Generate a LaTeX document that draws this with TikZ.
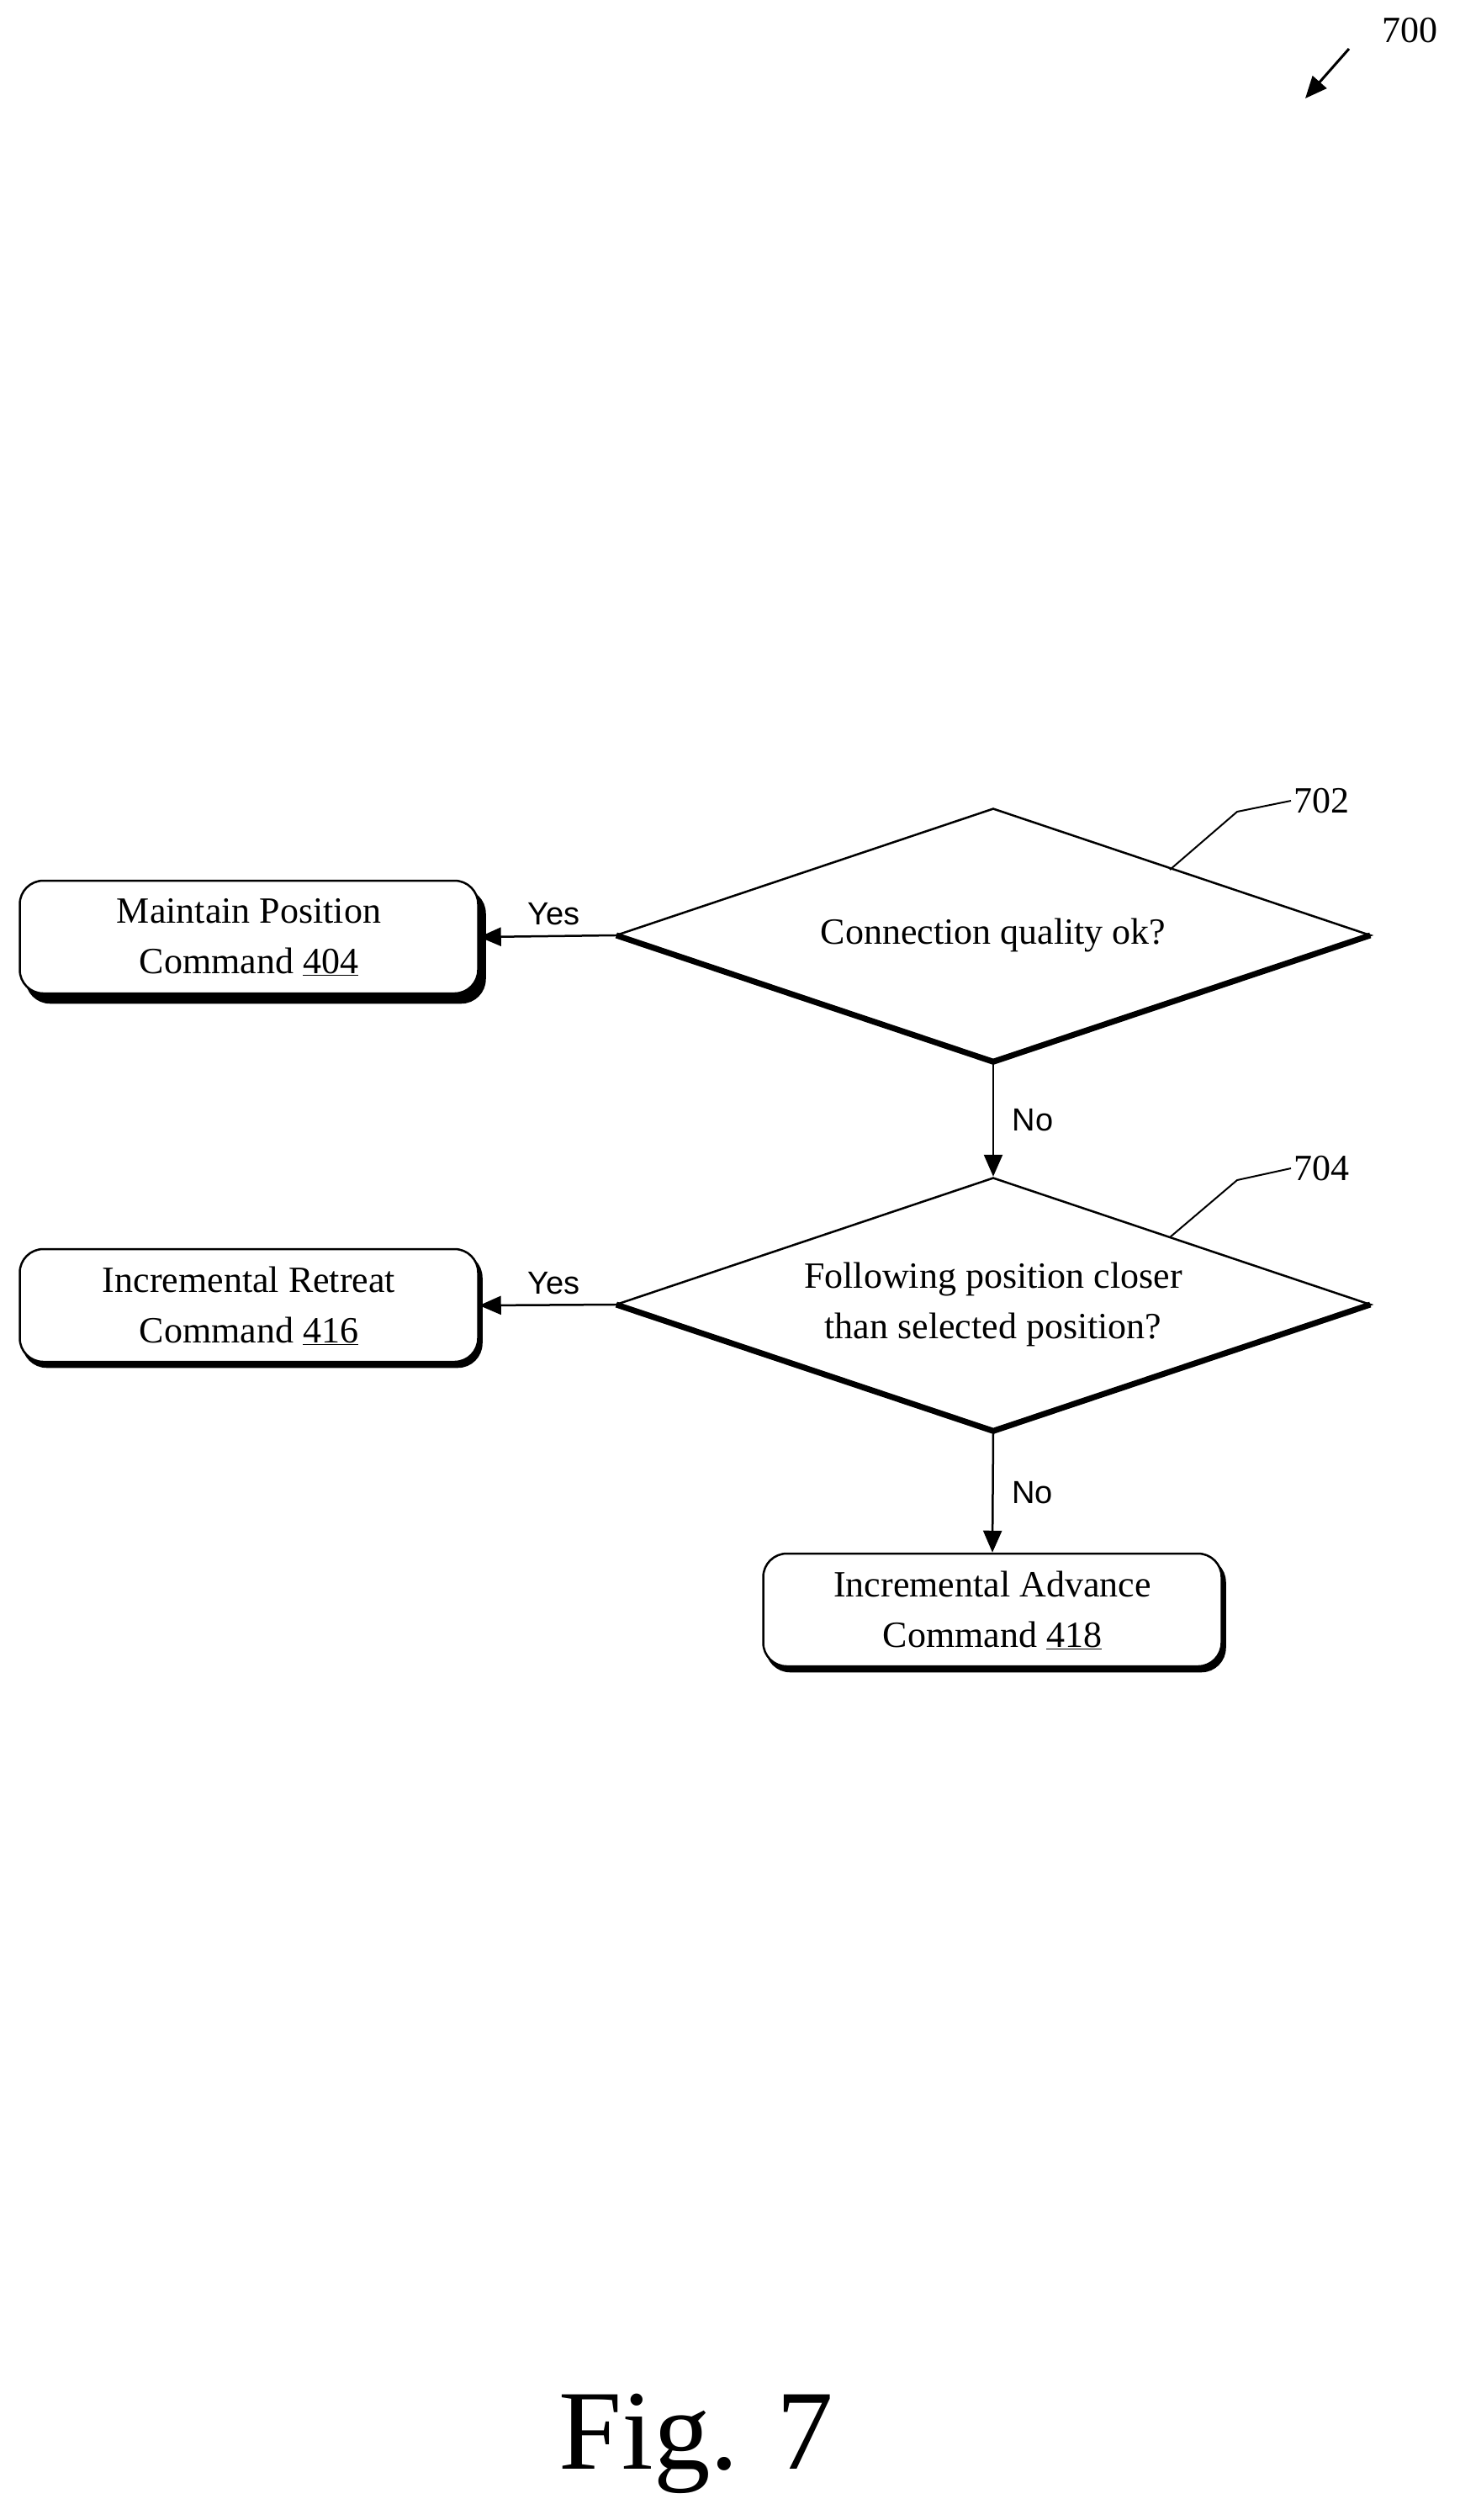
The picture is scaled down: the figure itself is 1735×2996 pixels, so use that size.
\documentclass[tikz,border=0pt]{standalone}
\usepackage{fontspec}
\setmainfont{Liberation Serif}
\setsansfont{Liberation Sans}
\usetikzlibrary{shapes.geometric,arrows.meta}
\begin{document}
\begin{tikzpicture}[x=1pt,y=-1pt,
  box/.style={draw,line width=2.5pt,rounded corners=28pt,minimum width=545pt,minimum height=134pt,align=center,font=\fontsize{44}{60}\selectfont,fill=white},
  dia/.style={draw,line width=2.5pt,diamond,aspect=2.97,minimum width=898pt,minimum height=302pt,inner sep=0pt,align=center,font=\fontsize{44}{60}\selectfont,fill=white},
  lab/.style={font=\sffamily\fontsize{38}{44}\selectfont},
  ref/.style={font=\fontsize{44}{50}\selectfont},
  arr/.style={line width=2.5pt,-{Triangle[length=26pt,width=22pt]}}]
\useasboundingbox (0,0) rectangle (1735,2996);
% shadows
\fill[black] (300,1120) ++(4,5) node[box,fill=black,draw=black] {};
\node[box] (b1) at (296,1114) {Maintain Position\\Command \underline{404}};
\node[box,fill=black] at (300,1558) {};
\node[box] (b2) at (296,1552) {Incremental Retreat\\Command \underline{416}};
\node[box,fill=black] at (1184,1920) {};
\node[box] (b3) at (1180,1914) {Incremental Advance\\Command \underline{418}};
% diamonds with shadow on lower edges
\node[dia] (d1) at (1181,1112) {Connection quality ok?};
\draw[line width=7pt] ([xshift=2pt]d1.west) -- ([yshift=2pt]d1.south) -- ([xshift=-2pt]d1.east);
\node[dia] (d2) at (1181,1551) {Following position closer\\than selected position?};
\draw[line width=7pt] ([xshift=2pt]d2.west) -- ([yshift=2pt]d2.south) -- ([xshift=-2pt]d2.east);
% connectors
\draw[arr] (d1.west) -- (b1.east) node[lab,pos=0.45,above=8pt] {Yes};
\draw[arr] (d2.west) -- (b2.east) node[lab,pos=0.45,above=8pt] {Yes};
\draw[arr] (d1.south) -- (d2.north) node[lab,midway,right=18pt] {No};
\draw[arr] (d2.south) -- (b3.north) node[lab,midway,right=18pt] {No};
% reference labels
\node[ref,anchor=west] (r702) at (1535,952) {702};
\draw[line width=2pt] (1391,1034) -- (1471,965) -- (r702.west);
\node[ref,anchor=west] (r704) at (1535,1389) {704};
\draw[line width=2pt] (1391,1471) -- (1471,1403) -- (r704.west);
\node[ref,anchor=west] (r700) at (1640,36) {700};
\coordinate (a700) at (1552,117);
\draw[line width=3pt,-{Triangle[length=26pt,width=22pt]}] (1604,58) -- (a700);
\node[font=\fontsize{135}{140}\selectfont] (fig) at (828,2905) {Fig. 7};
\end{tikzpicture}
\end{document}
